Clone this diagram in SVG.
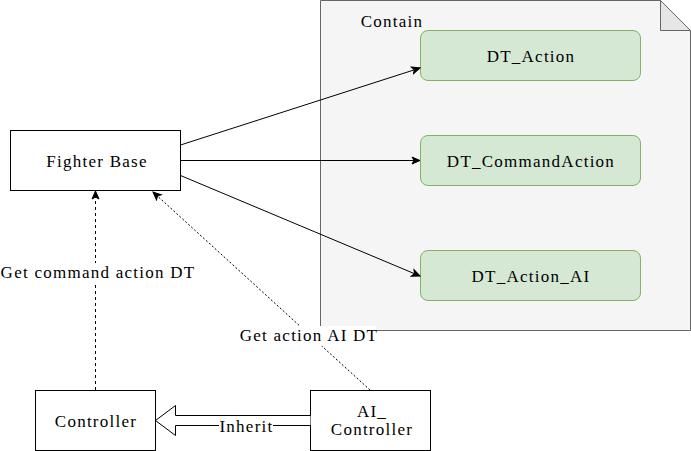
<svg xmlns="http://www.w3.org/2000/svg" width="691" height="451" viewBox="0 0 691 451">
<style>
text{font-family:"Liberation Serif","Times New Roman",serif;font-size:17px;letter-spacing:1.25px;fill:#000;text-anchor:middle}
.box{fill:#fff;stroke:#000;stroke-width:1}
.dt{fill:#d5e8d4;stroke:#82b366;stroke-width:1}
.conn{fill:none;stroke:#000;stroke-width:1}
.bg{fill:#fff}
</style>
<defs>
<marker id="arr" markerWidth="10" markerHeight="10" refX="9" refY="5" orient="auto" markerUnits="userSpaceOnUse">
<path d="M1,1.5 L9,5 L1,8.5 L3,5 Z" fill="#000" stroke="#000" stroke-width="1"/>
</marker>
</defs>
<g id="contain">
<path d="M320.5,0.5 H660.5 L690.5,30.5 V330.5 H320.5 Z" fill="#f5f5f5" stroke="#666"/>
<path d="M660.5,0.5 V30.5 H690.5 Z" fill="#e6e6e6" stroke="#666"/>
<text x="392" y="27">Contain</text>
</g>
<g id="dt_action">
<rect class="dt" x="420.5" y="30.5" width="220" height="50" rx="7.5"/>
<text x="531" y="62">DT_Action</text>
</g>
<g id="dt_commandaction">
<rect class="dt" x="420.5" y="135.5" width="220" height="50" rx="7.5"/>
<text x="531" y="167">DT_CommandAction</text>
</g>
<g id="dt_action_ai">
<rect class="dt" x="420.5" y="250.5" width="220" height="50" rx="7.5"/>
<text x="531" y="282">DT_Action_AI</text>
</g>
<g id="fighter_base">
<rect class="box" x="10.5" y="130.5" width="170" height="60"/>
<text x="97" y="167">Fighter Base</text>
</g>
<g id="controller">
<rect class="box" x="35.5" y="390.5" width="120" height="60"/>
<text x="96" y="427">Controller</text>
</g>
<g id="ai_controller">
<rect class="box" x="310.5" y="390.5" width="120" height="60"/>
<text x="372" y="417">AI_</text>
<text x="372" y="435">Controller</text>
</g>
<g id="connectors">
<line class="conn" x1="180.5" y1="145" x2="420" y2="68" marker-end="url(#arr)"/>
<line class="conn" x1="180.5" y1="160.5" x2="420" y2="160.5" marker-end="url(#arr)"/>
<line class="conn" x1="180.5" y1="175.5" x2="420" y2="276" marker-end="url(#arr)"/>
<line class="conn" x1="95.5" y1="390" x2="95.5" y2="191" stroke-dasharray="3 3" marker-end="url(#arr)"/>
<rect class="bg" x="0" y="263" width="196" height="20"/>
<text x="98" y="278">Get command action DT</text>
<line class="conn" x1="370" y1="390" x2="153" y2="192" stroke-dasharray="2 2" stroke="#333" stroke-width="0.8" marker-end="url(#arr)"/>
<rect class="bg" x="241" y="326" width="135" height="20"/>
<text x="309" y="341">Get action AI DT</text>
<path d="M310.5,415.5 H175.5 V405.5 L155.5,420.5 L175.5,435.5 V425.5 H310.5" fill="#fff" stroke="#000"/>
<rect class="bg" x="219" y="418" width="54" height="18"/>
<text x="246.5" y="432">Inherit</text>
</g>
</svg>
